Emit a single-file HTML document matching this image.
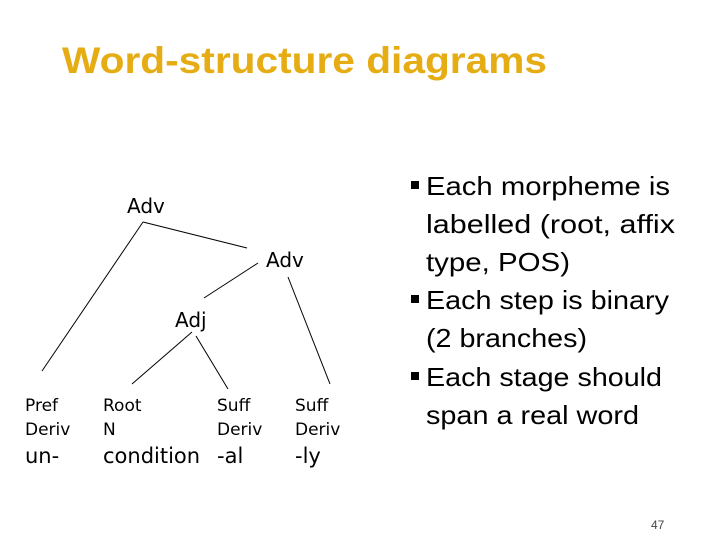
<!DOCTYPE html>
<html><head><meta charset="utf-8"><style>
html,body{margin:0;padding:0;background:#fff;}
svg{display:block;}
</style></head><body>
<svg width="720" height="540" viewBox="0 0 720 540" xmlns="http://www.w3.org/2000/svg">
<rect width="720" height="540" fill="#fff"/>
<text x="62" y="73" font-family="Liberation Sans, sans-serif" font-weight="bold" font-size="37" fill="#e6ac14" textLength="485" lengthAdjust="spacingAndGlyphs">Word-structure diagrams</text>
<g stroke="#000" stroke-width="1" fill="none">
<line x1="143" y1="222" x2="42" y2="371"/>
<line x1="143" y1="222" x2="247" y2="248"/>
<line x1="258" y1="263" x2="204" y2="298"/>
<line x1="288" y1="277" x2="330" y2="384"/>
<line x1="192" y1="332" x2="132" y2="384"/>
<line x1="196" y1="336" x2="228" y2="389"/>
</g>
<g font-family="DejaVu Sans, Liberation Sans, sans-serif" fill="#000">
<text x="127" y="213" font-size="20">Adv</text>
<text x="266" y="267" font-size="20">Adv</text>
<text x="175" y="327" font-size="20">Adj</text>
<g font-size="17">
<text x="25" y="411">Pref</text><text x="25" y="435">Deriv</text>
<text x="103" y="411">Root</text><text x="103" y="435">N</text>
<text x="217" y="411">Suff</text><text x="217" y="435">Deriv</text>
<text x="295" y="411">Suff</text><text x="295" y="435">Deriv</text>
</g>
<g font-size="21">
<text x="25" y="463">un-</text>
<text x="103" y="463">condition</text>
<text x="217" y="463">-al</text>
<text x="295" y="463">-ly</text>
</g>
</g>
<g fill="#000">
<rect x="411" y="181" width="8" height="8"/>
<rect x="411" y="295" width="8" height="8"/>
<rect x="411" y="372" width="8" height="8"/>
</g>
<g font-family="Liberation Sans, sans-serif" font-size="26" fill="#000">
<text x="426" y="195" textLength="244" lengthAdjust="spacingAndGlyphs">Each morpheme is</text>
<text x="426" y="233" textLength="249" lengthAdjust="spacingAndGlyphs">labelled (root, affix</text>
<text x="426" y="271" textLength="144" lengthAdjust="spacingAndGlyphs">type, POS)</text>
<text x="426" y="309" textLength="243" lengthAdjust="spacingAndGlyphs">Each step is binary</text>
<text x="426" y="347" textLength="161" lengthAdjust="spacingAndGlyphs">(2 branches)</text>
<text x="426" y="386" textLength="236" lengthAdjust="spacingAndGlyphs">Each stage should</text>
<text x="426" y="424" textLength="213" lengthAdjust="spacingAndGlyphs">span a real word</text>
</g>
<text x="651" y="529" font-family="Liberation Sans, sans-serif" font-size="12" fill="#444">47</text>
</svg>
</body></html>
